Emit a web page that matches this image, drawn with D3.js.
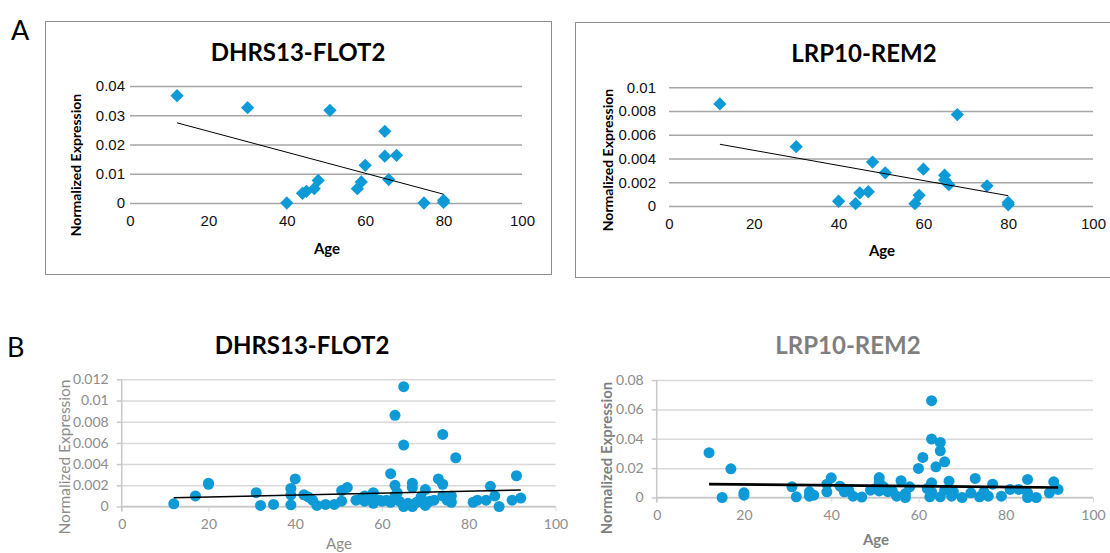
<!DOCTYPE html>
<html>
<head>
<meta charset="utf-8">
<script src="https://cdn.jsdelivr.net/npm/d3@7"></script>
<style>
  body { margin: 0; background: #fff; }
  svg { display: block; }
</style>
</head>
<body>
<div id="chart"></div>
<script>
// ---- data ----
// panel A: same samples in both genes
var agesA = [12, 30, 40, 44, 45, 47, 48, 51, 58, 59, 60, 65, 65, 66, 68, 75, 80, 80];
var exprA1 = [0.0367, 0.0326, 0, 0.0033, 0.0040, 0.0049, 0.0077, 0.0317, 0.0049, 0.0072,
              0.0129, 0.0245, 0.0160, 0.0080, 0.0163, 0, 0.0009, 0.0002];
var exprA2 = [0.0086, 0.0050, 0.0004, 0.0002, 0.0011, 0.0012, 0.0037, 0.0028, 0.0002, 0.0009,
              0.0031, 0.0026, 0.0022, 0.0018, 0.0077, 0.0017, 0.0003, 0.0001];
var trendA1 = [[12, 0.0274], [80, 0.0030]];
var trendA2 = [[12, 0.0052], [80, 0.00087]];

// panel B: larger cohort
var agesB1 = [12, 17, 20, 20, 31, 32, 35, 39, 39, 39, 40, 42, 43, 44, 45, 47, 49, 50.7, 50.7, 52,
              54, 55, 56, 56, 57, 58, 58, 59.5, 60, 61, 62, 62, 63, 63, 63, 63.5, 64, 65, 65, 65,
              66, 67, 67, 67, 68, 69, 70, 70, 71, 72, 73, 74, 74, 74, 75, 76, 76, 77, 81, 82,
              84, 85, 86, 87, 90, 91, 92];
var exprB1 = [0.00025, 0.0010, 0.0022, 0.0021, 0.0013, 0.0001, 0.0002, 0.00016, 0.0011, 0.0017,
              0.0026, 0.0011, 0.0009, 0.0006, 0.0001, 0.0002, 0.0002, 0.0005, 0.0015, 0.0018,
              0.0006, 0.0007, 0.0010, 0.0005, 0.0009, 0.0013, 0.0003, 0.0006, 0.0005, 0.0006,
              0.0031, 0.0004, 0.0086, 0.0020, 0.0010, 0.0013, 0.0005, 0.0113, 0.0058, 0.0,
              0.0003, 0.0022, 0.0018, 0.0, 0.0004, 0.0009, 0.0016, 0.0001, 0.0005, 0.0006,
              0.0026, 0.0068, 0.0021, 0.0010, 0.0006, 0.0010, 0.0004, 0.0046, 0.0004, 0.0006,
              0.0006, 0.0019, 0.0010, 0.0, 0.0006, 0.0029, 0.0008];
var agesB2 = [12, 15, 17, 20, 20, 31, 32, 35, 35, 36, 39, 39, 40, 42, 43, 44, 45, 47, 49, 50,
              51, 51, 51, 52, 53, 54, 55, 56, 57, 57, 58, 60, 61, 62, 62.6, 63, 63, 63, 63, 64,
              65, 65, 65, 66, 66, 67, 67.6, 68, 70, 72, 73, 74, 75, 76, 77, 79, 81, 83, 85, 85,
              85, 87, 90, 91, 92];
var exprB2 = [0.0305, 0.0, 0.0195, 0.0032, 0.0016, 0.0073, 0.0005, 0.0039, 0.0009, 0.0016,
              0.0091, 0.0039, 0.0134, 0.0077, 0.0039, 0.0050, 0.0009, 0.0003, 0.0050, 0.0060,
              0.0136, 0.0107, 0.0045, 0.0073, 0.0040, 0.0045, 0.0009, 0.0114, 0.0027, 0.0,
              0.0073, 0.0198, 0.0273, 0.0061, 0.0005, 0.0659, 0.0398, 0.0100, 0.0039, 0.0209,
              0.0375, 0.0318, 0.0005, 0.0243, 0.0050, 0.0111, 0.0009, 0.0039, 0.0, 0.0032,
              0.0130, 0.0005, 0.0039, 0.0009, 0.0091, 0.0009, 0.0055, 0.0055, 0.0123, 0.0032,
              0.0, 0.0, 0.0032, 0.0107, 0.0055];
var trendB1 = [[12, 0.00082], [92, 0.00156]];
var trendB2 = [[12, 0.0091], [92, 0.0068]];

// tick labels
var xTicks = [0, 20, 40, 60, 80, 100];
var yTicksA1 = [0, 0.01, 0.02, 0.03, 0.04];
var yLabelsA1 = ["0", "0.01", "0.02", "0.03", "0.04"];
var yTicksA2 = [0, 0.002, 0.004, 0.006, 0.008, 0.01];
var yLabelsA2 = ["0", "0.002", "0.004", "0.006", "0.008", "0.01"];
var yTicksB1 = [0, 0.002, 0.004, 0.006, 0.008, 0.01, 0.012];
var yLabelsB1 = ["0", "0.002", "0.004", "0.006", "0.008", "0.01", "0.012"];
var yTicksB2 = [0, 0.02, 0.04, 0.06, 0.08];
var yLabelsB2 = ["0", "0.02", "0.04", "0.06", "0.08"];

var blue = "#0e9ad7";

var svg = d3.select("#chart").append("svg")
    .attr("width", 1110)
    .attr("height", 553)
    .style("font-family", "Lato, 'Open Sans', sans-serif");

svg.append("rect").attr("width", 1110).attr("height", 553).attr("fill", "#fff");

// panel letters
svg.append("text").attr("x", 11).attr("y", 40).attr("font-size", 27).text("A");
svg.append("text").attr("x", 7).attr("y", 357).attr("font-size", 27).text("B");

// boxes around panel A charts
svg.append("rect").attr("x", 45.5).attr("y", 21.5).attr("width", 506).attr("height", 253)
    .attr("fill", "none").attr("stroke", "#8c8c8c");
svg.append("rect").attr("x", 575.5).attr("y", 22.5).attr("width", 560).attr("height", 255)
    .attr("fill", "none").attr("stroke", "#8c8c8c");

function drawPanel(p, ages, values, trend, yTicks, yLabels) {
    var x = d3.scaleLinear().domain([0, 100]).range([p.x0, p.x1]);
    var y = d3.scaleLinear().domain([0, yTicks[yTicks.length - 1]]).range([p.y0, p.y1]);
    var g = svg.append("g");

    // horizontal gridlines + y tick labels
    var yAxis = g.append("g")
        .attr("transform", `translate(${p.x0},0)`)
        .call(d3.axisLeft(y).tickValues(yTicks)
            .tickFormat((d, i) => yLabels[i])
            .tickSize(-(p.x1 - p.x0)).tickPadding(p.tickPad));
    yAxis.select(".domain").remove();
    yAxis.selectAll(".tick line").attr("stroke", p.grid).attr("stroke-width", p.gridW);
    yAxis.selectAll(".tick text").attr("fill", p.tickColor)
        .attr("font-size", p.tickSize).attr("font-family", p.tickFont);

    var xAxis = g.append("g")
        .attr("transform", `translate(0,${p.y0})`)
        .call(d3.axisBottom(x).tickValues(xTicks).tickSize(p.axisLines ? 5 : 0)
            .tickPadding(p.xPad));
    xAxis.select(".domain").remove();
    xAxis.selectAll(".tick line").attr("stroke", p.grid);
    xAxis.selectAll(".tick text").attr("fill", p.tickColor)
        .attr("font-size", p.tickSize).attr("font-family", p.tickFont);

    if (p.axisLines) {
        // left axis line with small outside ticks
        g.append("line").attr("x1", p.x0).attr("x2", p.x0).attr("y1", p.y1).attr("y2", p.y0 + 5)
            .attr("stroke", "#c8c8c8").attr("stroke-width", 1.5);
        yAxis.selectAll(".tick").append("line")
            .attr("x1", -5).attr("x2", 0).attr("stroke", "#c8c8c8").attr("stroke-width", 1.5);
        g.append("line").attr("x1", p.x0).attr("x2", p.x1).attr("y1", p.y0).attr("y2", p.y0)
            .attr("stroke", "#c8c8c8").attr("stroke-width", 1.5);
    }

    // points
    var pts = ages.map((a, i) => [a, values[i]]);
    if (p.diamond) {
        var sym = d3.symbol(d3.symbolSquare, 88);
        g.selectAll(".pt").data(pts).enter().append("path")
            .attr("d", sym)
            .attr("transform", d => `translate(${x(d[0])},${y(d[1])}) rotate(45)`)
            .attr("fill", blue);
    } else {
        g.selectAll(".pt").data(pts).enter().append("circle")
            .attr("cx", d => x(d[0]))
            .attr("cy", d => y(d[1]))
            .attr("r", 5.5)
            .attr("fill", blue);
    }

    // trend line
    g.append("path")
        .datum(trend)
        .attr("d", d3.line().x(d => x(d[0])).y(d => y(d[1])))
        .attr("stroke", "#000").attr("stroke-width", p.trendW).attr("fill", "none");

    // title and axis titles
    svg.append("text").attr("x", p.titleX).attr("y", p.titleY)
        .attr("text-anchor", "middle").attr("font-size", 24).attr("font-weight", "bold")
        .attr("fill", p.titleColor).text(p.title);
    svg.append("text")
        .attr("transform", `translate(${p.ylabX},${p.ylabY}) rotate(-90)`)
        .attr("text-anchor", "middle").attr("dominant-baseline", "central")
        .attr("font-size", p.ylabSize).attr("font-weight", p.labelWeight)
        .attr("fill", p.labelColor).text("Normalized Expression");
    svg.append("text").attr("x", p.xlabX).attr("y", p.xlabY)
        .attr("text-anchor", "middle").attr("dominant-baseline", "central")
        .attr("font-size", 15).attr("font-weight", p.labelWeight)
        .attr("fill", p.labelColor).text("Age");
}

drawPanel({x0: 130, x1: 522, y0: 203, y1: 86, grid: "#a6a6a6", gridW: 1.5, tickPad: 5, xPad: 12,
    tickColor: "#111", tickSize: 15, tickFont: "'Liberation Sans', sans-serif", diamond: true,
    trendW: 1, title: "DHRS13-FLOT2", titleX: 298, titleY: 61, titleColor: "#000",
    ylabX: 75, ylabY: 165, ylabSize: 14, xlabX: 327, xlabY: 248, labelWeight: "bold", labelColor: "#000"},
    agesA, exprA1, trendA1, yTicksA1, yLabelsA1);

drawPanel({x0: 669, x1: 1093, y0: 206, y1: 87.3, grid: "#a6a6a6", gridW: 1.5, tickPad: 13, xPad: 12,
    tickColor: "#111", tickSize: 15, tickFont: "'Liberation Sans', sans-serif", diamond: true,
    trendW: 1, title: "LRP10-REM2", titleX: 864, titleY: 62, titleColor: "#000",
    ylabX: 607, ylabY: 160, ylabSize: 14, xlabX: 882, xlabY: 250, labelWeight: "bold", labelColor: "#000"},
    agesA, exprA2, trendA2, yTicksA2, yLabelsA2);

drawPanel({x0: 121.7, x1: 555.5, y0: 506.5, y1: 379.3, grid: "#d9d9d9", gridW: 1.5, tickPad: 13, xPad: 8,
    tickColor: "#8c8c8c", tickSize: 14, tickFont: "Lato, sans-serif", diamond: false, axisLines: true,
    trendW: 1.6, title: "DHRS13-FLOT2", titleX: 302, titleY: 354, titleColor: "#000",
    ylabX: 64, ylabY: 457, ylabSize: 15.5, xlabX: 339, xlabY: 543, labelWeight: "normal", labelColor: "#8c8c8c"},
    agesB1, exprB1, trendB1, yTicksB1, yLabelsB1);

drawPanel({x0: 656.7, x1: 1093, y0: 497.5, y1: 380, grid: "#d9d9d9", gridW: 1.5, tickPad: 13, xPad: 8,
    tickColor: "#8c8c8c", tickSize: 14, tickFont: "Lato, sans-serif", diamond: false, axisLines: true,
    trendW: 2.6, title: "LRP10-REM2", titleX: 848, titleY: 354, titleColor: "#7f7f7f",
    ylabX: 606, ylabY: 458, ylabSize: 15, xlabX: 876, xlabY: 539, labelWeight: "bold", labelColor: "#7f7f7f"},
    agesB2, exprB2, trendB2, yTicksB2, yLabelsB2);
</script>
</body>
</html>
